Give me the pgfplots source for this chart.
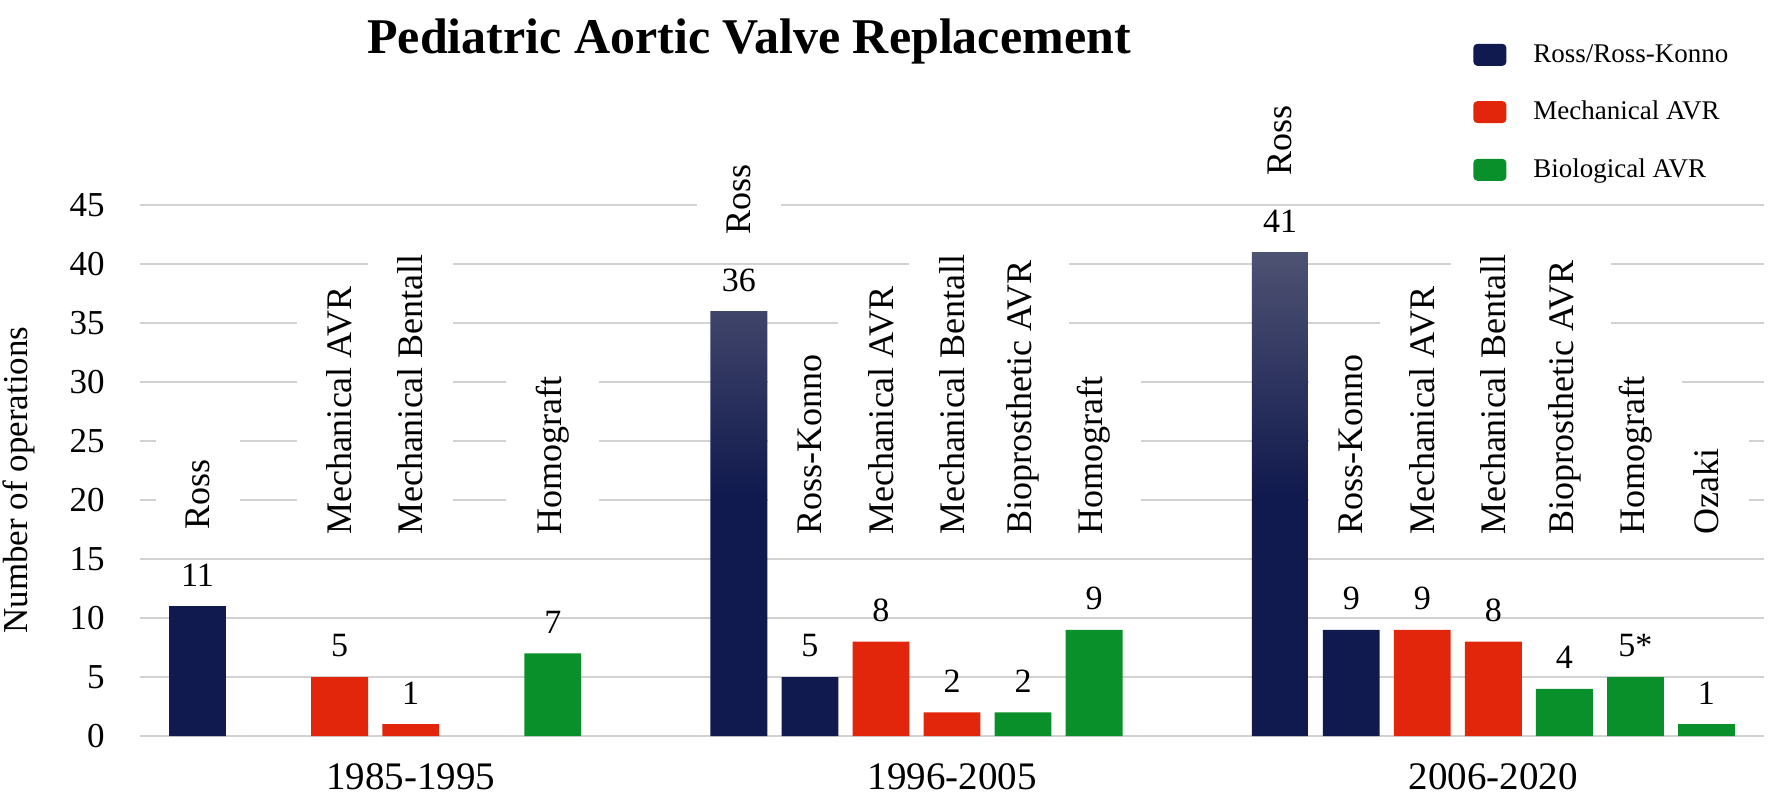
\documentclass[border=0pt]{standalone}
\usepackage{fontspec}
\setmainfont{Liberation Serif}
\usepackage{pgfplots}
\pgfplotsset{compat=1.18}
\definecolor{navy}{HTML}{111A4E}
\definecolor{rossTop}{HTML}{4E5272}
\definecolor{mred}{HTML}{E1260C}
\definecolor{bgreen}{HTML}{0A902A}
\definecolor{gridgray}{HTML}{D2D2D2}
\newcommand{\cat}[3]{\node[rotate=90, anchor=west, fill=white, inner xsep=11pt, inner ysep=15pt, font=\fontsize{18}{20}\selectfont] at (axis cs:#1,#2) {#3};}
\newcommand{\val}[3]{\node[anchor=center, inner sep=0pt, font=\fontsize{17}{19}\selectfont] at (axis cs:#1,#2) {#3};}
\pgfplotsset{myleg/.style={legend image code/.code={\fill[##1, draw=none, rounded corners=2pt] (0pt,-5.5pt) rectangle (16.5pt,5.5pt);}}}
\begin{document}
\begin{tikzpicture}
\path[use as bounding box] (-70pt,-31.5pt) rectangle (815pt,368pt);
\begin{axis}[
  scale only axis, width=812pt, height=265.5pt,
  xmin=-3.81, xmax=19.05, ymin=0, ymax=45,
  axis line style={draw=none},
  major tick length=0pt, tick style={draw=none},
  ytick={0,5,...,45},
  ymajorgrids, grid style={gridgray, line width=1pt},
  xtick={0,7.62,15.24}, xticklabels={1985-1995,1996-2005,2006-2020},
  xticklabel style={font=\fontsize{19.5}{22}\selectfont, inner sep=0pt, anchor=north, yshift=-13.5pt},
  yticklabel style={font=\fontsize{17.5}{20}\selectfont, inner sep=0pt, anchor=east, xshift=-17.5pt},
  /pgf/number format/assume math mode=true,
  ylabel={Number of operations},
  ylabel style={at={(axis description cs:-0.0745,0.482)}, anchor=center, font=\fontsize{17.5}{20}\selectfont},
  title={Pediatric Aortic Valve Replacement},
  title style={at={(axis description cs:0.375,1.2844)}, anchor=base, yshift=-6pt, font=\bfseries\fontsize{25}{28}\selectfont},
  clip=false,
  legend style={at={(axis description cs:0.8208,1.3107)}, anchor=north west, draw=none, fill=none,
    font=\fontsize{13.5}{15}\selectfont, inner sep=0pt, row sep=14pt, cells={anchor=west},
    /tikz/every odd column/.append style={column sep=11.5pt}},
]
% category labels (white boxes behind)
\cat{-3}{15.6}{Ross}
\cat{-1}{15.14}{Mechanical AVR}
\cat{0}{15.14}{Mechanical Bentall}
\cat{2}{15.14}{Homograft}
\cat{4.62}{40.64}{Ross}
\cat{5.62}{15.14}{Ross-Konno}
\cat{6.62}{15.14}{Mechanical AVR}
\cat{7.62}{15.14}{Mechanical Bentall}
\cat{8.62}{15.14}{Bioprosthetic AVR}
\cat{9.62}{15.14}{Homograft}
\cat{12.24}{45.64}{Ross}
\cat{13.24}{15.14}{Ross-Konno}
\cat{14.24}{15.14}{Mechanical AVR}
\cat{15.24}{15.14}{Mechanical Bentall}
\cat{16.24}{15.14}{Bioprosthetic AVR}
\cat{17.24}{15.14}{Homograft}
\cat{18.24}{15.14}{Ozaki}
% bars
\addplot[ybar, bar width=0.8, bar shift=0pt, fill=navy, draw=none, myleg] coordinates {(5.62,5) (13.24,9)};
\addlegendentry{Ross/Ross-Konno}
\addplot[ybar, bar width=0.8, bar shift=0pt, fill=mred, draw=none, myleg] coordinates {(-1,5) (0,1) (6.62,8) (7.62,2) (14.24,9) (15.24,8)};
\addlegendentry{Mechanical AVR}
\addplot[ybar, bar width=0.8, bar shift=0pt, fill=bgreen, draw=none, myleg] coordinates {(2,7) (8.62,2) (9.62,9) (16.24,4) (17.24,5) (18.24,1)};
\addlegendentry{Biological AVR}
\addplot[ybar, bar width=0.8, bar shift=0pt, draw=none, top color=rossTop, bottom color=navy, middle color=navy, forget plot] coordinates {(-3,11) (4.62,36) (12.24,41)};
% value labels
\val{-3}{13.65}{11}
\val{-1}{7.65}{5}
\val{0}{3.65}{1}
\val{2}{9.65}{7}
\val{4.62}{38.65}{36}
\val{5.62}{7.65}{5}
\val{6.62}{10.65}{8}
\val{7.62}{4.65}{2}
\val{8.62}{4.65}{2}
\val{9.62}{11.65}{9}
\val{12.24}{43.65}{41}
\val{13.24}{11.65}{9}
\val{14.24}{11.65}{9}
\val{15.24}{10.65}{8}
\val{16.24}{6.65}{4}
\val{17.24}{7.65}{5*}
\val{18.24}{3.65}{1}
\end{axis}
\end{tikzpicture}
\end{document}
